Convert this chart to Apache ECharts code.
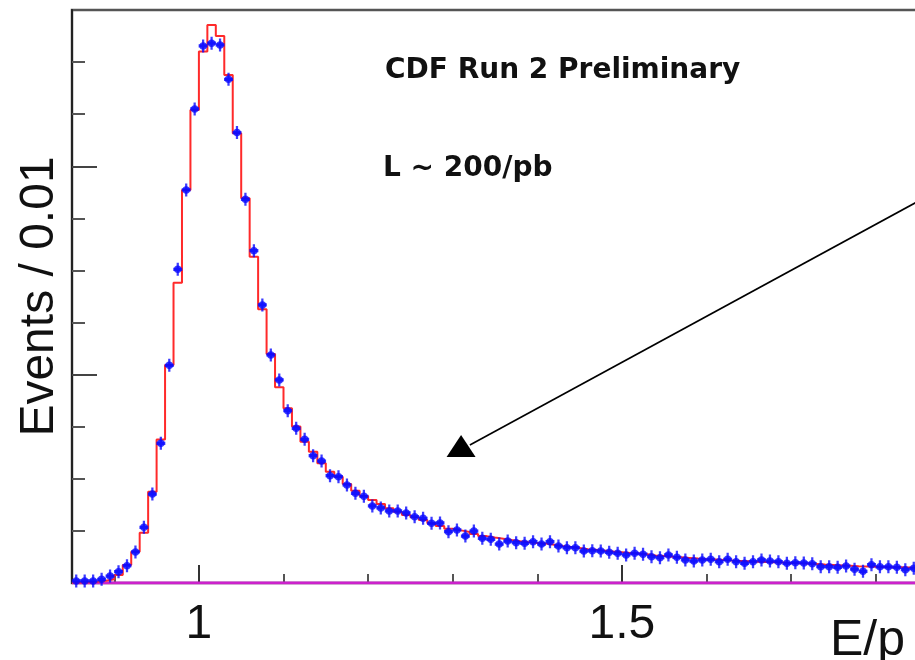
<!DOCTYPE html>
<html>
<head>
<meta charset="utf-8">
<script src="https://cdn.jsdelivr.net/npm/echarts@6.0.0/dist/echarts.min.js"></script>
<style>
    html, body {margin: 0; padding: 0; background: #fff;}
    #chart {width: 915px; height: 660px;}
</style>
</head>
<body>
<div id="chart"></div>
<script>
// E/p histogram, bins of 0.01 starting at 0.85
const binStart = 0.85;
const binWidth = 0.01;

// red histogram (simulation), one value per bin
const mcCounts = [
    5, 8, 12, 22, 35, 77, 173, 301, 483, 877,
    1377, 2093, 2883, 3773, 4541, 5101, 5357, 5251, 4877, 4317,
    3693, 3132, 2627, 2198, 1879, 1677, 1501, 1357, 1261, 1149,
    1069, 1021, 950, 886, 835, 797, 758, 717, 685, 653,
    631, 605, 573, 547, 520, 505, 490, 470, 450, 437,
    425, 412, 400, 392, 385, 378, 368, 355, 345, 335,
    325, 318, 310, 302, 295, 288, 282, 276, 265, 258,
    252, 246, 240, 234, 229, 225, 220, 216, 212, 208,
    205, 202, 199, 196, 193, 190, 186, 182, 177, 173,
    169, 165, 161, 158, 156, 154, 152, 150, 148, 146
];

// blue points (data), one value per bin
const dataCounts = [
    20, 20, 20, 35, 67, 109, 166, 298, 535, 854,
    1341, 2090, 3011, 3773, 4550, 5155, 5181, 5165, 4835, 4323,
    3683, 3190, 2669, 2189, 1949, 1654, 1485, 1379, 1222, 1171,
    1030, 1021, 941, 861, 832, 740, 720, 692, 692, 672,
    637, 621, 573, 576, 493, 509, 451, 499, 429, 419,
    374, 403, 387, 381, 397, 374, 397, 355, 339, 339,
    307, 310, 307, 295, 285, 269, 285, 276, 252, 243,
    269, 247, 221, 211, 221, 227, 204, 227, 204, 189,
    204, 221, 211, 204, 189, 195, 192, 185, 157, 157,
    150, 163, 133, 112, 176, 155, 155, 150, 128, 141
];

const majorXTicks = [1, 1.5];
const minorXTicks = [0.9, 1.1, 1.2, 1.3, 1.4, 1.6, 1.7, 1.8];
const majorYTicks = [2000, 4000];
const minorYTicks = [500, 1000, 1500, 2500, 3000, 3500, 4500, 5000];

// flat magenta line at zero, and the arrow annotation (data coords)
const baseline = [[0.85, 0], [1.85, 0]];
const arrowFrom = [1.85, 3663];
const arrowTo = [1.3203, 1325];
const arrowHead = [1.3099, 1315];

const edge = i => +(binStart + i * binWidth).toFixed(2);

const stepData = mcCounts.map((v, i) => [edge(i), v]);
stepData.push([edge(mcCounts.length), mcCounts[mcCounts.length - 1]]);

const pointData = dataCounts.map((v, i) => [edge(i) + binWidth / 2, v]);

const chart = echarts.init(document.getElementById('chart'));

const labelFont = 'Liberation Sans, Arial, sans-serif';

const option = {
    backgroundColor: '#fff',
    animation: false,
    grid: {
        left: 72, top: 10, width: 846, height: 573,
        show: true, borderColor: '#555', borderWidth: 2.5,
        containLabel: false, outerBoundsMode: 'none'
    },
    xAxis: [
        {
            type: 'value', min: 0.85, max: 1.85,
            axisLine: {show: true, lineStyle: {color: '#333', width: 2}},
            axisTick: {show: true, inside: true, length: 18, customValues: majorXTicks,
                lineStyle: {color: '#333', width: 2}},
            axisLabel: {show: true, customValues: majorXTicks, margin: 18,
                fontSize: 48, fontFamily: labelFont, color: '#111',
                formatter: v => String(v)},
            splitLine: {show: false}
        },
        {
            type: 'value', min: 0.85, max: 1.85, position: 'bottom',
            axisLine: {show: false},
            axisTick: {show: true, inside: true, length: 9, customValues: minorXTicks,
                lineStyle: {color: '#555', width: 2}},
            axisLabel: {show: false},
            splitLine: {show: false}
        }
    ],
    yAxis: [
        {
            type: 'value', min: 0, max: 5500,
            name: 'Events / 0.01', nameLocation: 'middle', nameGap: 8,
            nameTextStyle: {fontSize: 48, fontFamily: labelFont, color: '#111'},
            axisLine: {show: true, lineStyle: {color: '#222', width: 2}},
            axisTick: {show: true, inside: true, length: 25, customValues: majorYTicks,
                lineStyle: {color: '#444', width: 2}},
            axisLabel: {show: false},
            splitLine: {show: false}
        },
        {
            type: 'value', min: 0, max: 5500, position: 'left',
            axisLine: {show: false},
            axisTick: {show: true, inside: true, length: 13, customValues: minorYTicks,
                lineStyle: {color: '#555', width: 2}},
            axisLabel: {show: false},
            splitLine: {show: false}
        }
    ],
    series: [
        {
            name: 'baseline', type: 'line', data: baseline,
            symbol: 'none', lineStyle: {color: '#cc22cc', width: 3},
            z: 3,
            markLine: {
                silent: true, symbol: 'none',
                lineStyle: {color: '#000', width: 1.6, type: 'solid'},
                label: {show: false},
                data: [[{coord: arrowFrom}, {coord: arrowTo}]]
            },
            markPoint: {
                silent: true, symbol: 'triangle', symbolSize: [29, 22],
                itemStyle: {color: '#000'},
                label: {show: false},
                data: [{coord: arrowHead}]
            }
        },
        {
            name: 'simulation', type: 'line', step: 'end', data: stepData,
            symbol: 'none', lineStyle: {color: '#ff2a2a', width: 2},
            z: 4
        },
        {
            name: 'data', type: 'scatter', data: pointData,
            symbol: 'circle', symbolSize: 7.5,
            itemStyle: {color: '#0a0aff'}, z: 5
        },
        {
            name: 'data bars', type: 'scatter', data: pointData,
            symbol: 'path://M3,0h2v3h3v2h-3v3h-2v-3h-3v-2h3z', symbolSize: [9, 13],
            itemStyle: {color: '#0a0aff'}, z: 5
        }
    ],
    graphic: [
        {
            type: 'text', left: 385, top: 57,
            style: {text: 'CDF Run 2 Preliminary', font: 'bold 28px "DejaVu Sans"', fill: '#111'}
        },
        {
            type: 'text', left: 383, top: 155,
            style: {text: 'L ~ 200/pb', font: 'bold 28px "DejaVu Sans"', fill: '#111'}
        },
        {
            type: 'text', left: 830, top: 616,
            style: {text: 'E/p', font: '50px "Liberation Sans"', fill: '#111'}
        }
    ]
};

chart.setOption(option);
</script>
</body>
</html>
